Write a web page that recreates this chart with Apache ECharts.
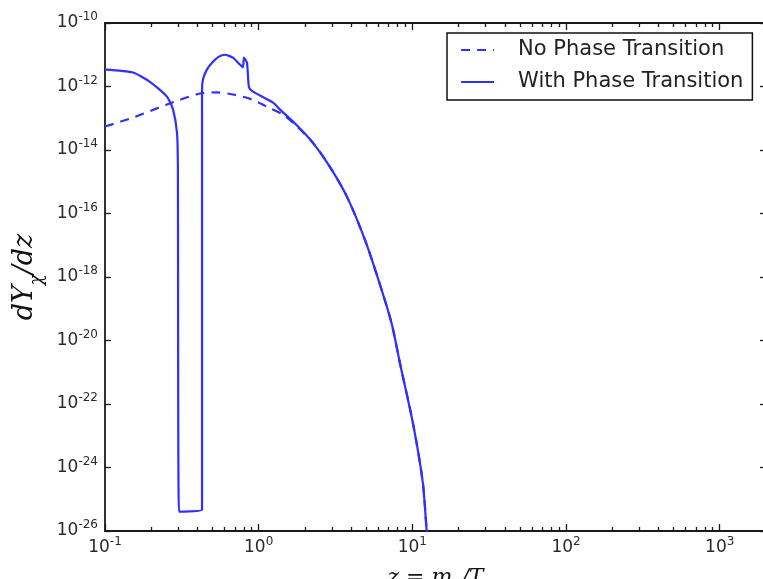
<!DOCTYPE html>
<html>
<head>
<meta charset="utf-8">
<script src="https://cdn.jsdelivr.net/npm/echarts@6/dist/echarts.min.js"></script>
<style>
html,body{margin:0;padding:0;background:#fff;}
#chart{width:763px;height:579px;}
</style>
</head>
<body>
<div id="chart"></div>
<script>
// ---- data ----
const seriesNames = ['No Phase Transition', 'With Phase Transition'];

// shared falling tail (both curves coincide here)
const zTail = [2.25, 2.90, 3.75, 4.91, 6.15, 7.36, 8.29, 10.07, 11.7, 12.4, 13.0];
const yTail = [1.7e-14, 3.0e-15, 3.4e-16, 1.5e-17, 5.8e-19, 3.2e-20, 2.0e-21, 2.6e-23, 3.3e-25, 1.0e-26, 1.0e-27];

// No phase transition (dashed), before the tail
const zNoPT = [0.1, 0.152, 0.253, 0.415, 0.535, 0.68, 0.904, 1.13, 1.44, 1.77];
const yNoPT = [5.5e-14, 1.05e-13, 2.7e-13, 6.0e-13, 6.5e-13, 5.6e-13, 3.9e-13, 2.3e-13, 1.3e-13, 5.6e-14];

// With phase transition (solid), before the tail
const zPT = [0.1, 0.152, 0.196, 0.253, 0.277, 0.294, 0.298, 0.303, 0.428, 0.428, 0.434, 0.46, 0.504, 0.551, 0.603, 0.68, 0.755, 0.79, 0.802, 0.839, 0.865, 0.918, 1.24, 1.374, 1.77];
const yPT = [3.4e-12, 2.75e-12, 1.4e-12, 4.8e-13, 1.9e-13, 3.5e-14, 3.0e-15, 4.1e-26, 4.7e-26, 7.9e-13, 1.66e-12, 3.4e-12, 6.0e-12, 8.7e-12, 1.0e-11, 8.1e-12, 4.9e-12, 4.0e-12, 8.1e-12, 5.6e-12, 9.3e-13, 6.9e-13, 3.1e-13, 1.9e-13, 6.0e-14];

// axis ticks
const xMajorTicks = [0.1, 1, 10, 100, 1000];
const xMinorTicks = [0.2,0.3,0.4,0.5,0.6,0.7,0.8,0.9, 2,3,4,5,6,7,8,9, 20,30,40,50,60,70,80,90, 200,300,400,500,600,700,800,900];
const yMajorTicks = [1e-26, 1e-24, 1e-22, 1e-20, 1e-18, 1e-16, 1e-14, 1e-12, 1e-10];
const xRange = [0.1, 2000];
const yRange = [1e-26, 1e-10];

// ---- chart ----
const toPairs = (xs, ys) => xs.map((x, i) => [x, ys[i]]);
const dataNoPT = toPairs(zNoPT.concat(zTail), yNoPT.concat(yTail));
const dataPT = toPairs(zPT.concat(zTail), yPT.concat(yTail));

const lineColor = '#2f2fff';
const axisColor = '#1a1a1a';
const textColor = '#2a2a2a';

const powFmt = v => '{b|10}{s|' + Math.round(Math.log10(v)) + '}';
const labelRich = {
  b: {fontSize: 17, fontFamily: 'DejaVu Sans', color: textColor, lineHeight: 24},
  s: {fontSize: 12, fontFamily: 'DejaVu Sans', color: textColor, lineHeight: 12, verticalAlign: 'top'}
};

function tickAxis(base, position, values, len) {
  return Object.assign({
    type: 'log', logBase: 10, gridIndex: 0, position: position,
    axisLine: {show: false, onZero: false},
    axisTick: {show: true, inside: true, length: len, customValues: values,
      lineStyle: {color: axisColor, width: 1.3}},
    axisLabel: {show: false},
    splitLine: {show: false}
  }, base);
}

const xBase = {min: xRange[0], max: xRange[1]};
const yBase = {min: yRange[0], max: yRange[1]};

const chart = echarts.init(document.getElementById('chart'), null, {renderer: 'canvas'});
chart.setOption({
  animation: false,
  backgroundColor: '#ffffff',
  grid: {left: 105, top: 23, width: 661, height: 508, containLabel: false, outerBoundsMode: 'none'},
  legend: {
    data: seriesNames,
    orient: 'vertical',
    left: 447, top: 33,
    padding: [5, 9, 6, 13],
    itemWidth: 33, itemHeight: 14, itemGap: 8,
    borderColor: '#111', borderWidth: 1.5, borderRadius: 0,
    backgroundColor: '#fff',
    itemStyle: {color: 'rgba(0,0,0,0)', borderWidth: 0, opacity: 0},
    lineStyle: {width: 2.2},
    textStyle: {fontSize: 21, fontFamily: 'DejaVu Sans', color: '#222', lineHeight: 24, padding: [0, 0, 0, 19]},
    selectedMode: false
  },
  xAxis: [
    {
      type: 'log', logBase: 10, min: xRange[0], max: xRange[1], position: 'bottom',
      name: '{i|z = m}{sub|χ}{i|/T}', nameLocation: 'middle', nameGap: 36,
      nameTextStyle: {
        rich: {
          i: {fontSize: 22, fontFamily: 'DejaVu Serif', fontStyle: 'italic', color: '#111'},
          sub: {fontSize: 15, fontFamily: 'DejaVu Serif', fontStyle: 'italic', color: '#111', verticalAlign: 'bottom', padding: [0, 0, -6, 0]}
        }
      },
      axisLine: {show: true, onZero: false, lineStyle: {color: axisColor, width: 1.8}},
      axisTick: {show: true, inside: true, length: 7, customValues: xMajorTicks, lineStyle: {color: axisColor, width: 1.3}},
      axisLabel: {show: true, margin: 5, customValues: xMajorTicks, formatter: powFmt, rich: labelRich},
      splitLine: {show: false}
    },
    tickAxis(xBase, 'bottom', xMinorTicks, 4),
    Object.assign(tickAxis(xBase, 'top', xMajorTicks, 7), {axisLine: {show: true, onZero: false, lineStyle: {color: axisColor, width: 1.8}}}),
    tickAxis(xBase, 'top', xMinorTicks, 4)
  ],
  yAxis: [
    {
      type: 'log', logBase: 10, min: yRange[0], max: yRange[1], position: 'left',
      name: '{i|dY}{sub|χ}{i|/dz}', nameLocation: 'middle', nameGap: 58, nameRotate: 90,
      nameTextStyle: {
        rich: {
          i: {fontSize: 27, fontFamily: 'DejaVu Serif', fontStyle: 'italic', color: '#111'},
          sub: {fontSize: 18, fontFamily: 'DejaVu Serif', fontStyle: 'italic', color: '#111', verticalAlign: 'bottom', padding: [0, 0, -7, 0]}
        }
      },
      axisLine: {show: true, onZero: false, lineStyle: {color: axisColor, width: 1.8}},
      axisTick: {show: true, inside: true, length: 6, customValues: yMajorTicks, lineStyle: {color: axisColor, width: 1.3}},
      axisLabel: {show: true, margin: 7, customValues: yMajorTicks, formatter: powFmt, rich: labelRich},
      splitLine: {show: false}
    },
    Object.assign(tickAxis(yBase, 'right', yMajorTicks, 6), {axisLine: {show: true, onZero: false, lineStyle: {color: axisColor, width: 1.8}}})
  ],
  series: [
    {
      name: seriesNames[0], type: 'line', xAxisIndex: 0, yAxisIndex: 0,
      data: dataNoPT, showSymbol: false, symbol: 'none', smooth: 0.3, clip: true,
      lineStyle: {color: lineColor, width: 2.2, type: [9, 7]},
      itemStyle: {color: lineColor}
    },
    {
      name: seriesNames[1], type: 'line', xAxisIndex: 0, yAxisIndex: 0,
      data: dataPT, showSymbol: false, symbol: 'none', smooth: 0.2, clip: true,
      lineStyle: {color: lineColor, width: 2.2, type: 'solid'},
      itemStyle: {color: lineColor}
    }
  ]
});
</script>
</body>
</html>
